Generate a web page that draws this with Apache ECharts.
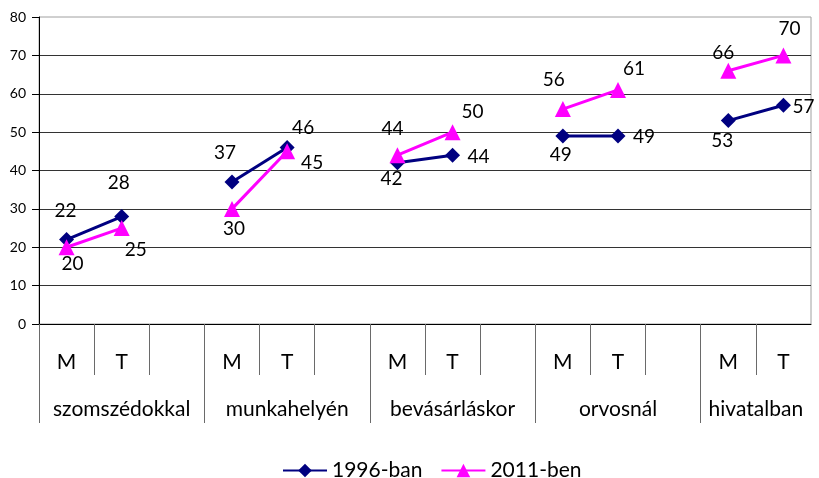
<!DOCTYPE html>
<html>
<head>
<meta charset="utf-8">
<script src="https://cdn.jsdelivr.net/npm/echarts@6/dist/echarts.min.js"></script>
<style>
  html, body { margin: 0; padding: 0; background: #fff; }
  #chart { width: 819px; height: 478px; }
</style>
</head>
<body>
<div id="chart"></div>
<script>
// Inner category level: men (M) / women (T), with an empty slot between groups
const subCategories = ['M', 'T', '', 'M', 'T', '', 'M', 'T', '', 'M', 'T', '', 'M', 'T'];
// Outer category level
const groupNames = ['szomszédokkal', 'munkahelyén', 'bevásárláskor', 'orvosnál', 'hivatalban'];
// Group spans on the inner axis (start index, end index exclusive)
const groupStarts = [0, 3, 6, 9, 12];
const groupEnds = [3, 6, 9, 12, 14];

const seriesNames = ['1996-ban', '2011-ben'];
const values1996 = [22, 28, null, 37, 46, null, 42, 44, null, 49, 49, null, 53, 57];
const values2011 = [20, 25, null, 30, 45, null, 44, 50, null, 56, 61, null, 66, 70];

const yTicks = [0, 10, 20, 30, 40, 50, 60, 70, 80];

// Label placement around each marker (pixel shift from the marker centre)
const labelShift1996 = [[-1, -29], [-3, -34], null, [-7, -29], [16, -20], null, [-6, 16], [26, 2], null, [-2, 19], [26, 1], null, [-6, 20], [20, 2]];
const labelShift2011 = [[6, 17], [14, 22], null, [2, 20], [25, 12], null, [-5, -26], [20, -20], null, [-9, -29], [16, -21], null, [-5, -18], [6, -27]];

const FONT = 'Lato';
const n = subCategories.length;

const groupCenters = groupStarts.map((s, i) => (s + groupEnds[i]) / 2);
const innerTicks = [];
for (let i = 1; i < n; i++) {
  if (groupStarts.indexOf(i) === -1) innerTicks.push(i);
}

function buildData(values, shifts) {
  return values.map((v, i) => {
    if (v === null) return null;
    return { value: v, label: { offset: shifts[i] } };
  });
}

const chart = echarts.init(document.getElementById('chart'), null, { renderer: 'canvas' });

chart.setOption({
  animation: false,
  backgroundColor: '#ffffff',
  textStyle: { fontFamily: FONT, color: '#000' },
  grid: {
    left: 39, right: 8, top: 17, bottom: 154,
    show: true, borderColor: '#a0a0a0', borderWidth: 1, backgroundColor: 'transparent'
  },
  legend: {
    data: seriesNames,
    top: 455,
    left: 277,
    itemWidth: 44,
    itemHeight: 17,
    itemGap: 18,
    textStyle: { fontFamily: FONT, fontSize: 21, color: '#000', padding: [0, 0, 0, 0] }
  },
  xAxis: [
    {
      type: 'category',
      data: subCategories,
      boundaryGap: true,
      position: 'bottom',
      axisLine: { show: true, lineStyle: { color: '#000', width: 1 } },
      axisTick: { show: false },
      axisLabel: { interval: 0, margin: 28, fontFamily: FONT, fontSize: 21, color: '#000' },
      splitLine: { show: false }
    },
    {
      type: 'value',
      min: 0, max: n,
      position: 'bottom',
      axisLine: { show: false },
      axisTick: { show: true, customValues: innerTicks, length: 51, lineStyle: { color: '#6a6a6a', width: 1 } },
      axisLabel: { show: false },
      splitLine: { show: false }
    },
    {
      type: 'value',
      min: 0, max: n,
      position: 'bottom',
      axisLine: { show: false },
      axisTick: { show: true, customValues: groupStarts, length: 99, lineStyle: { color: '#6a6a6a', width: 1 } },
      axisLabel: {
        show: true,
        customValues: groupCenters,
        margin: 75,
        fontFamily: FONT, fontSize: 21, color: '#000',
        formatter: function (val) {
          const idx = groupCenters.indexOf(val);
          return idx >= 0 ? groupNames[idx] : '';
        }
      },
      splitLine: { show: false }
    }
  ],
  yAxis: {
    type: 'value',
    min: yTicks[0],
    max: yTicks[yTicks.length - 1],
    interval: yTicks[1] - yTicks[0],
    axisLine: { show: true, lineStyle: { color: '#000', width: 1 } },
    axisTick: { show: true, length: 7, lineStyle: { color: '#000' } },
    axisLabel: { margin: 13, fontFamily: FONT, fontSize: 14, color: '#000' },
    splitLine: { show: true, showMaxLine: false, lineStyle: { color: '#333', width: 1 } }
  },
  series: [
    {
      name: seriesNames[0],
      type: 'line',
      xAxisIndex: 0,
      data: buildData(values1996, labelShift1996),
      connectNulls: false,
      symbol: 'diamond',
      symbolSize: 15,
      showAllSymbol: true,
      itemStyle: { color: '#000080' },
      lineStyle: { color: '#000080', width: 3 },
      label: { show: true, position: 'inside', fontFamily: FONT, fontSize: 19, color: '#000' },
      z: 2
    },
    {
      name: seriesNames[1],
      type: 'line',
      xAxisIndex: 0,
      data: buildData(values2011, labelShift2011),
      connectNulls: false,
      symbol: 'triangle',
      symbolSize: 16,
      showAllSymbol: true,
      itemStyle: { color: '#ff00ff' },
      lineStyle: { color: '#ff00ff', width: 3 },
      label: { show: true, position: 'inside', fontFamily: FONT, fontSize: 19, color: '#000' },
      z: 3
    }
  ]
});
</script>
</body>
</html>
